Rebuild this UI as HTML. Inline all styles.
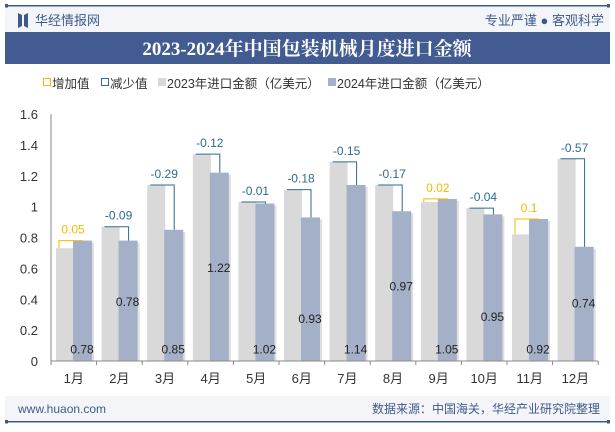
<!DOCTYPE html>
<html><head><meta charset="utf-8">
<style>
body{margin:0;width:615px;height:427px;overflow:hidden;background:#fff;font-family:"Liberation Sans","Noto Sans CJK SC",sans-serif;}
#wrap{position:relative;width:615px;height:427px;}
</style></head>
<body><div id="wrap">
<svg id="svg" width="615" height="427" xmlns="http://www.w3.org/2000/svg" font-family="Liberation Sans, Noto Sans CJK SC, sans-serif">
<rect x="0" y="0" width="615" height="427" fill="#fff"/>
<rect x="5" y="5" width="605" height="28" fill="#f4f5f8"/>
<rect x="5" y="5" width="605" height="1.5" fill="#3d5a8c"/>
<rect x="5" y="4" width="3" height="3.5" fill="#3d5a8c"/>
<rect x="607" y="4" width="3" height="3.5" fill="#3d5a8c"/>
<g>
<polygon points="18,13 22,15 22,26 18,28" fill="#3d5a8c"/>
<polygon points="24,15 28,13 28,28 24,26" fill="#3d5a8c"/>
<text x="35" y="25" font-size="13" fill="#3d5a8c">华经情报网</text>
</g>
<text x="604" y="25" font-size="13" fill="#3d5a8c" text-anchor="end">专业严谨 ● 客观科学</text>
<rect x="5" y="32" width="605" height="32" fill="#425c91"/>
<text x="307" y="55" font-size="19" font-weight="bold" fill="#fff" text-anchor="middle" font-family="Liberation Serif, Noto Serif CJK SC, serif">2023-2024年中国包装机械月度进口金额</text>
<g font-size="12.5" fill="#333">
<g><rect x="43.5" y="78.5" width="7" height="7" fill="none" stroke="#f5b800"/><text x="52" y="88">增加值</text></g>
<g><rect x="101.5" y="78.5" width="7" height="7" fill="none" stroke="#2e6a92"/><text x="110" y="88">减少值</text></g>
<g><rect x="158" y="78" width="8" height="8" fill="#d9d9d9"/><text x="167" y="88">2023年进口金额（亿美元）</text></g>
<g><rect x="328" y="78" width="8" height="8" fill="#a4b0c8"/><text x="337" y="88">2024年进口金额（亿美元）</text></g>
</g>
<g id="plot"></g>
<rect x="5" y="396" width="605" height="25" fill="#f4f5f8"/>
<rect x="5" y="421" width="605" height="1.5" fill="#3d5a8c"/>
<rect x="5" y="420" width="3" height="3.5" fill="#3d5a8c"/>
<rect x="607" y="420" width="3" height="3.5" fill="#3d5a8c"/>
<text x="18" y="413" font-size="12" fill="#3d5a8c">www.huaon.com</text>
<text x="600" y="413" font-size="12" fill="#3d5a8c" text-anchor="end">数据来源：中国海关，华经产业研究院整理</text>
</svg>
</div>
<script>
const months=["1月","2月","3月","4月","5月","6月","7月","8月","9月","10月","11月","12月"];
const v2023=[0.73,0.87,1.14,1.34,1.03,1.11,1.29,1.14,1.03,0.99,0.82,1.31];
const v2024=[0.78,0.78,0.85,1.22,1.02,0.93,1.14,0.97,1.05,0.95,0.92,0.74];
const changes=["0.05","-0.09","-0.29","-0.12","-0.01","-0.18","-0.15","-0.17","0.02","-0.04","0.1","-0.57"];
const labelPos=[0.08,0.39,0.08,0.61,0.08,0.28,0.08,0.49,0.08,0.29,0.08,0.38];
const yTicks=[0,0.2,0.4,0.6,0.8,1,1.2,1.4,1.6];
const NS="http://www.w3.org/2000/svg";
const g=document.getElementById('plot');
const x0=51,cw=45.6,yBase=361,yTop=114,yMax=1.6;
const y=v=>yBase-(yBase-yTop)*v/yMax;
const xc=i=>x0+cw*i;
function el(tag,attrs,text){const e=document.createElementNS(NS,tag);for(const k in attrs)e.setAttribute(k,attrs[k]);if(text!==undefined)e.textContent=text;g.appendChild(e);return e;}
yTicks.forEach(t=>{
 const e=el('text',{x:38,y:y(t)+5,'font-size':13,fill:'#333','text-anchor':'end'},String(t));
 
 
});
months.forEach((m,i)=>{
 const cx=xc(i);
 const b1=el('rect',{x:cx+5,y:y(v2023[i]),width:18,height:yBase-y(v2023[i]),fill:'#d9d9d9'});
 
 
 el('rect',{x:cx+25,y:y(v2024[i])+2,width:18,height:yBase-y(v2024[i])-2,fill:'#c8c8c8',opacity:0.6});
 const b2=el('rect',{x:cx+22,y:y(v2024[i]),width:19,height:yBase-y(v2024[i]),fill:'#a4b0c8'});
 
 
 const inc=v2024[i]>=v2023[i];
 const col=inc?'#f5b800':'#2e6a92';
 const hy=y(Math.max(v2023[i],v2024[i]));
 const xl=cx+8,xr=cx+32;
 const vy=y(Math.min(v2023[i],v2024[i]));
 const p=el('polyline',{points:`${xl},${inc?vy:hy} ${xl},${hy} ${xr},${hy} ${xr},${inc?hy:vy}`,fill:'none',stroke:col,'stroke-width':1});
 
 
 const ct=el('text',{x:cx+22,y:hy-7,'font-size':12,fill:col,'text-anchor':'middle'},changes[i]);
 
 
 const vl=el('text',{x:cx+31,y:y(labelPos[i])+5,'font-size':12,fill:'#222','text-anchor':'middle'},v2024[i].toFixed(2));
 
 
 const tk=el('line',{x1:cx,y1:yBase,x2:cx,y2:yBase+4,stroke:'#888'});
 
 
 const xl2=el('text',{x:cx+cw/2,y:yBase+22,'font-size':13,fill:'#333','text-anchor':'middle'},m);
 
 
});
el('line',{x1:x0+cw*12,y1:yBase,x2:x0+cw*12,y2:yBase+4,stroke:'#888'});
const ax=el('line',{x1:x0,y1:yBase,x2:x0+cw*12,y2:yBase,stroke:'#888'});


const ay=el('line',{x1:x0,y1:yTop,x2:x0,y2:yBase,stroke:'#888'});


</script>
</body></html>
